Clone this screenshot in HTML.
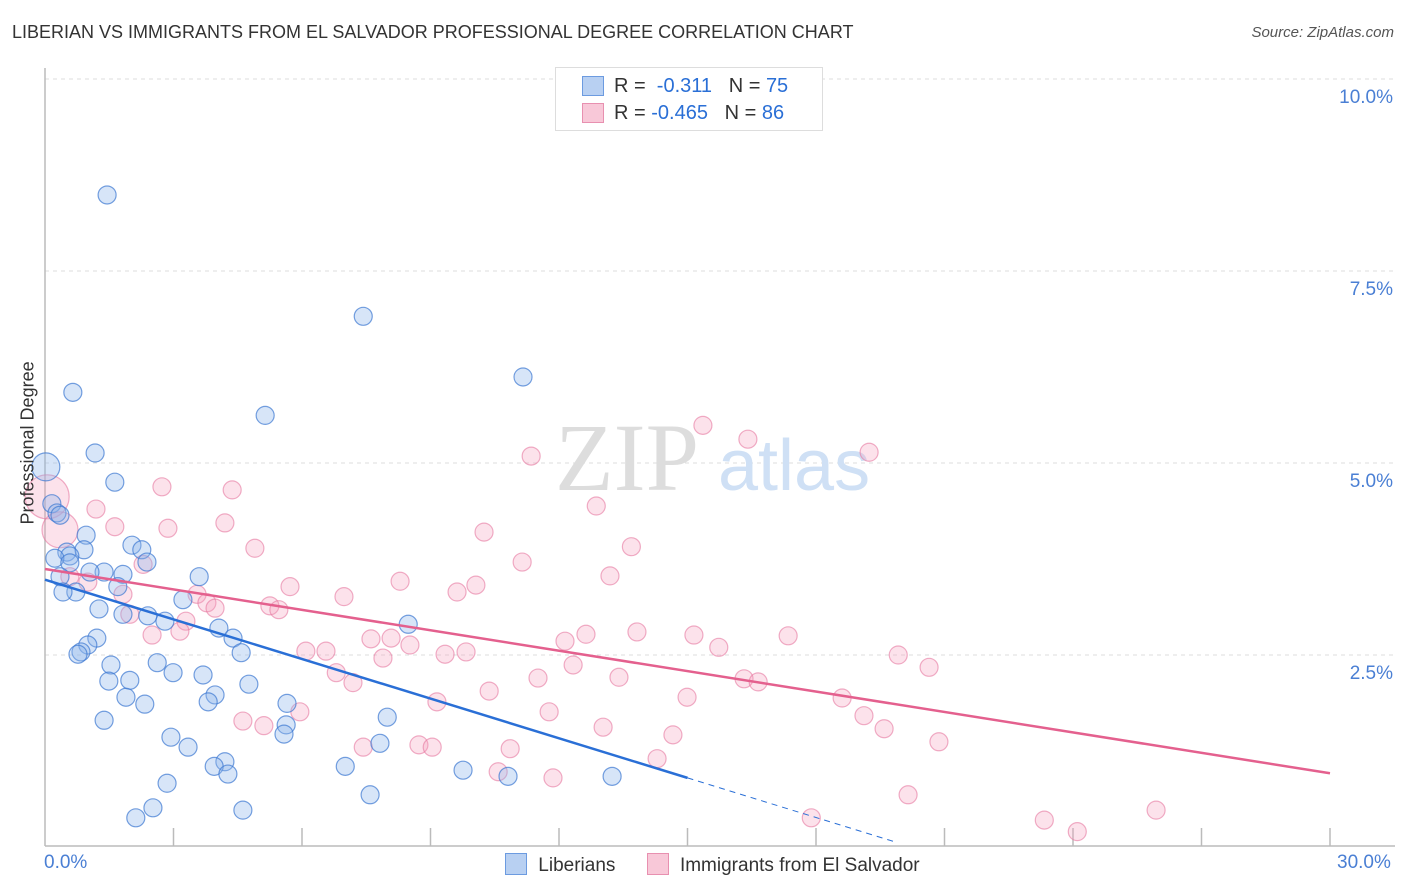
<!DOCTYPE html>
<html><head><meta charset="utf-8"><style>
body{margin:0;background:#fff;font-family:"Liberation Sans",sans-serif;}
#wrap{position:relative;width:1406px;height:892px;overflow:hidden;}
.t{position:absolute;white-space:nowrap;}
</style></head><body>
<div id="wrap">
<div class="t" style="left:12px;top:22px;font-size:18px;color:#333;">LIBERIAN VS IMMIGRANTS FROM EL SALVADOR PROFESSIONAL DEGREE CORRELATION CHART</div>
<div class="t" style="right:12px;top:24px;font-size:15px;color:#555;font-style:italic;">Source: ZipAtlas.com</div>
<svg id="plot" width="1406" height="892" style="position:absolute;left:0;top:0"></svg>
</div>
<script>
const blueX=[1.45,7.43,11.16,0.65,5.14,1.17,0.02,1.63,0.16,0.28,0.35,0.96,2.03,2.26,0.91,0.51,0.58,0.23,2.38,0.58,1.38,1.05,1.82,0.35,3.60,1.70,0.72,0.42,3.22,1.26,2.40,1.82,2.80,4.06,8.48,4.39,1.21,1.00,0.84,0.77,4.58,1.54,2.62,2.99,3.69,1.49,1.98,4.76,1.89,3.97,3.81,2.33,5.65,1.38,7.99,5.63,5.58,2.94,7.82,3.34,4.20,3.95,4.27,7.01,9.76,10.81,13.24,2.85,7.59,2.52,4.62,2.12];
const blueY=[8.49,6.91,6.12,5.92,5.62,5.13,4.95,4.75,4.47,4.35,4.32,4.06,3.93,3.87,3.87,3.84,3.79,3.76,3.71,3.70,3.58,3.58,3.55,3.52,3.52,3.39,3.32,3.32,3.22,3.10,3.01,3.03,2.94,2.85,2.90,2.72,2.72,2.63,2.54,2.51,2.53,2.37,2.40,2.27,2.24,2.16,2.17,2.12,1.95,1.98,1.89,1.86,1.87,1.65,1.69,1.59,1.47,1.43,1.35,1.30,1.11,1.05,0.95,1.05,1.00,0.92,0.92,0.83,0.68,0.51,0.48,0.38];
const blueR=[9,9,9,9,9,9,14,9,9,9,9,9,9,9,9,9,9,9,9,9,9,9,9,9,9,9,9,9,9,9,9,9,9,9,9,9,9,9,9,9,9,9,9,9,9,9,9,9,9,9,9,9,9,9,9,9,9,9,9,9,9,9,9,9,9,9,9,9,9,9,9,9];
const pinkX=[15.36,16.41,19.24,11.35,0.05,2.73,4.37,12.87,1.19,0.35,4.20,1.63,2.87,10.25,4.90,13.69,11.14,2.29,13.19,0.58,8.29,1.00,10.06,5.72,9.62,3.55,1.82,6.98,3.78,3.97,5.25,5.46,1.98,3.29,3.15,2.50,12.63,13.82,15.15,17.35,7.61,8.08,12.14,8.52,6.09,6.56,9.83,9.34,15.73,19.92,7.89,20.64,12.33,6.80,11.51,13.40,7.19,16.32,16.65,10.37,14.99,18.61,9.15,5.95,11.77,19.12,4.62,5.11,13.03,19.59,14.66,20.87,7.43,8.73,9.04,10.86,14.29,10.58,11.86,20.15,17.89,23.33,25.94,24.10];
const pinkY=[5.49,5.31,5.14,5.09,4.56,4.69,4.65,4.44,4.40,4.13,4.22,4.17,4.15,4.10,3.89,3.91,3.71,3.68,3.53,3.52,3.46,3.45,3.41,3.39,3.32,3.29,3.29,3.26,3.18,3.11,3.14,3.09,3.03,2.94,2.81,2.76,2.77,2.80,2.76,2.75,2.71,2.72,2.68,2.63,2.55,2.55,2.54,2.51,2.60,2.50,2.46,2.34,2.37,2.27,2.20,2.21,2.14,2.19,2.15,2.03,1.95,1.94,1.89,1.76,1.76,1.71,1.64,1.58,1.56,1.54,1.46,1.37,1.30,1.33,1.30,1.28,1.15,0.98,0.90,0.68,0.38,0.35,0.48,0.20];
const pinkR=[9,9,9,9,22,9,9,9,9,18,9,9,9,9,9,9,9,9,9,9,9,9,9,9,9,9,9,9,9,9,9,9,9,9,9,9,9,9,9,9,9,9,9,9,9,9,9,9,9,9,9,9,9,9,9,9,9,9,9,9,9,9,9,9,9,9,9,9,9,9,9,9,9,9,9,9,9,9,9,9,9,9,9,9];
const blueLine=[3.48,0.90,15,19.8];
const pinkLine=[3.62,0.96];
const yTicks=[2.5,5.0,7.5,10.0];
const yTickLabels=["2.5%","5.0%","7.5%","10.0%"];
const xTicks=[3,6,9,12,15,18,21,24,27,30];

const NS="http://www.w3.org/2000/svg";
const svg=document.getElementById('plot');
const X0=45,X1=1330,Y0=847,Y10=79;
const sx=v=>X0+v/30*(X1-X0);
const sy=v=>Y0-v/10*(Y0-Y10);
function mk(tag,attrs,parent){const e=document.createElementNS(NS,tag);for(const k in attrs)e.setAttribute(k,attrs[k]);(parent||svg).appendChild(e);return e;}

yTicks.forEach((t,i)=>{
  const g=mk('line',{x1:X0,x2:1395,y1:sy(t),y2:sy(t),stroke:'#ddd','stroke-dasharray':'4,4'});
  
  
  const tx=mk('text',{x:1393,y:sy(t)+24,'text-anchor':'end','font-size':19,fill:'#4a7fd4','font-family':'Liberation Sans'});
  tx.textContent=yTickLabels[i];
  
  
});
const ax=mk('line',{x1:X0,x2:X0,y1:68,y2:846,stroke:'#bbb','stroke-width':1.5});


const bx=mk('line',{x1:X0,x2:1395,y1:846,y2:846,stroke:'#bbb','stroke-width':1.5});


xTicks.forEach(t=>{
  const l=mk('line',{x1:sx(t),x2:sx(t),y1:828,y2:846,stroke:'#bbb','stroke-width':1.5});
  
  
});
const wm=mk('text',{x:555,y:490,'font-size':96,fill:'#ddd','font-family':'Liberation Serif'});
wm.textContent='ZIP';


const wm2=mk('text',{x:718,y:490,'font-size':72,fill:'#cfe0f5','font-family':'Liberation Sans'});
wm2.textContent='atlas';



pinkX.forEach((x,i)=>{
  const c=mk('circle',{cx:sx(x),cy:sy(pinkY[i]),r:pinkR[i],fill:'rgba(244,160,190,0.3)',stroke:'rgba(230,120,160,0.6)','stroke-width':1.2});
  
  
});
blueX.forEach((x,i)=>{
  const c=mk('circle',{cx:sx(x),cy:sy(blueY[i]),r:blueR[i],fill:'rgba(140,180,235,0.35)',stroke:'rgba(60,120,210,0.7)','stroke-width':1.2});
  
  
});
const bslope=(blueLine[1]-blueLine[0])/blueLine[2];
const bl=mk('line',{x1:sx(0),y1:sy(blueLine[0]),x2:sx(blueLine[2]),y2:sy(blueLine[1]),stroke:'#2a6fd6','stroke-width':2.5});


const bd=mk('line',{x1:sx(blueLine[2]),y1:sy(blueLine[1]),x2:sx(blueLine[3]),y2:sy(blueLine[0]+bslope*blueLine[3]),stroke:'#2a6fd6','stroke-width':1,'stroke-dasharray':'6,5'});


const pl=mk('line',{x1:sx(0),y1:sy(pinkLine[0]),x2:sx(30),y2:sy(pinkLine[1]),stroke:'#e4608e','stroke-width':2.5});


</script>
<div class="t" style="left:-42px;top:444px;font-size:18px;color:#333;transform:rotate(-90deg);width:140px;text-align:center;">Professional Degree</div>
<div class="t" style="left:44px;top:852px;font-size:19px;color:#4a7fd4;">0.0%</div>
<div class="t" style="left:1337px;top:852px;font-size:19px;color:#4a7fd4;">30.0%</div>
<div style="position:absolute;left:555px;top:67px;width:266px;height:62px;border:1px solid #ddd;background:#fff;font-size:20px;color:#333;">
 <div style="position:absolute;left:26px;top:8px;width:20px;height:18px;background:#b8d0f2;border:1px solid #6c9be0;"></div>
 <div class="t" style="left:58px;top:7px;">R = &nbsp;<span style="color:#2a6fd6">-0.311</span> &nbsp;&nbsp;N = <span style="color:#2a6fd6">75</span></div>
 <div style="position:absolute;left:26px;top:35px;width:20px;height:18px;background:#f8c8d8;border:1px solid #e890b0;"></div>
 <div class="t" style="left:58px;top:34px;">R = <span style="color:#2a6fd6">-0.465</span> &nbsp;&nbsp;N = <span style="color:#2a6fd6">86</span></div>
</div>
<div style="position:absolute;left:505px;top:853px;font-size:19px;color:#333;">
 <span style="display:inline-block;width:20px;height:20px;background:#b8d0f2;border:1px solid #6c9be0;vertical-align:-4px;"></span>
 <span style="margin-left:6px;">Liberians</span>
 <span style="display:inline-block;width:20px;height:20px;background:#f8c8d8;border:1px solid #e890b0;vertical-align:-4px;margin-left:26px;"></span>
 <span style="margin-left:6px;">Immigrants from El Salvador</span>
</div>
</body></html>
